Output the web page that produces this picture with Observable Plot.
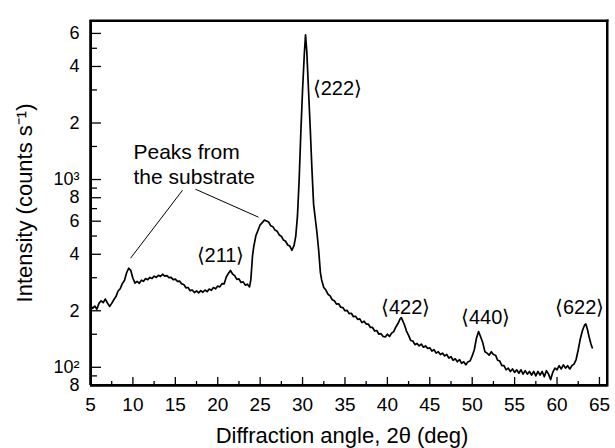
<!DOCTYPE html>
<html><head><meta charset="utf-8">
<script src="https://cdn.jsdelivr.net/npm/d3@7"></script>
<script src="https://cdn.jsdelivr.net/npm/@observablehq/plot@0.6"></script>
<style>
html,body{margin:0;padding:0;background:#fff}
#chart svg{display:block}
</style>
</head><body><div id="chart"></div>
<script>
// Diffraction angle 2θ (deg)
const angles = [5.0,5.25,5.5,5.75,6.0,6.25,6.5,6.75,7.0,7.25,7.5,7.75,8.0,8.25,8.5,8.75,9.0,9.25,9.5,9.75,
10.0,10.25,10.5,10.75,11.0,11.25,11.5,11.75,12.0,12.25,12.5,12.75,13.0,13.25,13.5,13.75,14.0,14.25,14.5,14.75,
15.0,15.25,15.5,15.75,16.0,16.25,16.5,16.75,17.0,17.25,17.5,17.75,18.0,18.25,18.5,18.75,19.0,19.25,19.5,19.75,
20.0,20.25,20.5,20.75,21.0,21.25,21.5,21.75,22.0,22.25,22.5,22.75,23.0,23.25,23.5,23.75,23.9,24.0,24.1,24.25,24.5,24.75,
25.0,25.25,25.5,25.75,26.0,26.25,26.5,26.75,27.0,27.25,27.5,27.75,28.0,28.25,28.5,28.75,29.0,29.2,29.4,29.6,29.8,
30.0,30.2,30.35,30.5,30.7,30.9,31.1,31.3,31.5,31.7,31.9,32.1,32.25,32.5,32.75,33.0,33.25,33.5,33.75,34.0,34.25,34.5,34.75,
35.0,35.25,35.5,35.75,36.0,36.25,36.5,36.75,37.0,37.25,37.5,37.75,38.0,38.25,38.5,38.75,39.0,39.25,39.5,39.75,
40.0,40.25,40.5,40.75,41.0,41.25,41.5,41.65,41.85,42.0,42.25,42.5,42.75,43.0,43.25,43.5,43.75,44.0,44.25,44.5,44.75,
45.0,45.25,45.5,45.75,46.0,46.25,46.5,46.75,47.0,47.25,47.5,47.75,48.0,48.25,48.5,48.75,49.0,49.25,49.5,49.75,
50.0,50.25,50.5,50.75,51.0,51.25,51.5,51.75,52.0,52.25,52.5,52.75,53.0,53.25,53.5,53.75,54.0,54.25,54.5,54.75,
55.0,55.25,55.5,55.75,56.0,56.25,56.5,56.75,57.0,57.25,57.5,57.75,58.0,58.25,58.5,58.75,59.0,59.25,59.5,59.75,
60.0,60.25,60.5,60.75,61.0,61.25,61.5,61.75,62.0,62.25,62.5,62.75,63.0,63.25,63.4,63.6,63.8,64.0,64.15];
// Intensity (counts per second)
const counts = [214,206,212,204,219,226,221,231,220,211,219,229,238,255,262,279,290,318,337,328,
298,281,287,280,291,287,297,293,301,297,306,301,309,305,313,306,308,300,301,293,
295,287,288,278,276,265,266,256,258,250,255,249,256,251,258,253,261,257,266,262,
271,268,279,278,302,316,328,314,308,294,296,283,285,274,277,268,292,338,392,440,503,537,
574,589,608,601,594,567,561,538,531,507,499,476,469,448,442,420,446,500,640,1000,1800,
3000,4600,5900,4800,3000,1900,1150,740,620,520,420,320,292,266,258,245,240,229,226,217,218,209,208,
200,201,193,194,186,187,180,181,173,176,170,170,163,163,156,157,150,151,146,145,
150,146,152,155,164,171,181,184,175,169,156,148,139,138,132,134,130,133,128,130,126,
127,122,124,119,121,117,119,115,117,112,114,109,111,107,110,105,107,103,107,108,
115,124,143,155,145,135,121,119,116,121,117,116,109,108,102,102,97,99,95,98,
94,97,93,97,92,96,92,95,91,95,90,95,91,95,89,96,92,86,94,99,
97,102,98,103,99,102,98,102,104,110,124,142,157,168,170,158,144,133,127];

const xMajorTicks = [5,10,15,20,25,30,35,40,45,50,55,60,65];
const xMinorTicks = [7.5,12.5,17.5,22.5,27.5,32.5,37.5,42.5,47.5,52.5,57.5,62.5];
const yMajorTicks = [80,100,200,400,600,800,1000,2000,4000,6000];
const yTickLabels = ["8","10²","2","4","6","8","10³","2","4","6"];
const yMinorTicks = [90,150,300,500,700,900,1500,3000,5000];

const mainPeakLabel = ["⟨222⟩"];
const mainPeakX = [31.2];
const mainPeakY = [3058];
const peakLabels = ["⟨211⟩","⟨422⟩","⟨440⟩","⟨622⟩"];
const peakLabelX = [20.33,42.15,51.58,62.67];
const peakLabelY = [395,208,184,208];

const noteText = ["Peaks from\nthe substrate"];
const noteX = [10.07];
const noteY = [1213];
const leaderX1 = [15.85,17.38];
const leaderY1 = [877,888];
const leaderX2 = [9.72,24.81];
const leaderY2 = [381,630];

const xDomain = [5, 65.95];
const yDomain = [80, 7030];
const xTitle = "Diffraction angle, 2θ (deg)";
const yTitle = "Intensity (counts s⁻¹)";

const W = 615, H = 448, ML = 90, MR = 8, MT = 20, MB = 63;
const innerW = W - ML - MR, innerH = H - MT - MB;
const series = angles.map((a, i) => ({a, c: counts[i]}));
const yLabels = yMajorTicks.map((v, i) => ({v, t: yTickLabels[i]}));
const peaks = peakLabels.map((t, i) => ({t, x: peakLabelX[i], y: peakLabelY[i]}));
const mainPeak = mainPeakLabel.map((t, i) => ({t, x: mainPeakX[i], y: mainPeakY[i]}));
const note = noteText.map((t, i) => ({t, x: noteX[i], y: noteY[i]}));
const leaders = leaderX1.map((x1, i) => ({x1, y1: leaderY1[i], x2: leaderX2[i], y2: leaderY2[i]}));

const chart = Plot.plot({
  width: W, height: H,
  marginLeft: ML, marginRight: MR, marginTop: MT, marginBottom: MB,
  style: {fontFamily: "'Liberation Sans', Arial, Helvetica, sans-serif", fontSize: "19px"},
  x: {domain: xDomain, axis: null},
  y: {type: "log", domain: yDomain, axis: null},
  marks: [
    Plot.tickY(yMajorTicks, {y: d => d, stroke: "#000", strokeWidth: 1.3, insetRight: innerW - 11}),
    Plot.tickY(yMinorTicks, {y: d => d, stroke: "#000", strokeWidth: 1.3, insetRight: innerW - 7}),
    Plot.tickX(xMajorTicks, {x: d => d, stroke: "#000", strokeWidth: 1.3, insetTop: innerH - 8}),
    Plot.tickX(xMinorTicks, {x: d => d, stroke: "#000", strokeWidth: 1.3, insetTop: innerH - 4}),
    Plot.text(yLabels, {y: "v", text: "t", frameAnchor: "left", dx: -11, textAnchor: "end", lineAnchor: "middle", fontSize: 18, fill: "#000"}),
    Plot.text(xMajorTicks, {x: d => d, text: d => String(d), frameAnchor: "bottom", dy: 19, textAnchor: "middle", lineAnchor: "middle", fontSize: 19, fill: "#000"}),
    Plot.line(series, {x: "a", y: "c", stroke: "#000", strokeWidth: 1.7}),
    Plot.link(leaders, {x1: "x1", y1: "y1", x2: "x2", y2: "y2", stroke: "#000", strokeWidth: 1}),
    Plot.text(mainPeak, {x: "x", y: "y", text: "t", textAnchor: "start", lineAnchor: "middle", fontSize: 20, fill: "#000"}),
    Plot.text(peaks, {x: "x", y: "y", text: "t", textAnchor: "middle", lineAnchor: "middle", fontSize: 20, fill: "#000"}),
    Plot.text(note, {x: "x", y: "y", text: "t", textAnchor: "start", lineAnchor: "middle", lineHeight: 1.2, fontSize: 21, fill: "#000"}),
    Plot.text([xTitle], {frameAnchor: "bottom", dy: 50, dx: -7, text: d => d, textAnchor: "middle", lineAnchor: "middle", fontSize: 22, fill: "#000"}),
    Plot.text([yTitle], {frameAnchor: "left", dx: -66, rotate: -90, text: d => d, textAnchor: "middle", lineAnchor: "middle", fontSize: 22, fill: "#000"}),
    Plot.frame({anchor: "top", stroke: "#000", strokeWidth: 2}),
    Plot.frame({anchor: "right", stroke: "#000", strokeWidth: 2}),
    Plot.frame({stroke: "#000", strokeWidth: 2, inset: 0.5}),
    Plot.ruleX([xDomain[0]], {stroke: "#000", strokeWidth: 2.6}),
    Plot.ruleY([yDomain[0]], {stroke: "#000", strokeWidth: 2.6})
  ]
});
document.getElementById("chart").appendChild(chart);
</script>
</body></html>
